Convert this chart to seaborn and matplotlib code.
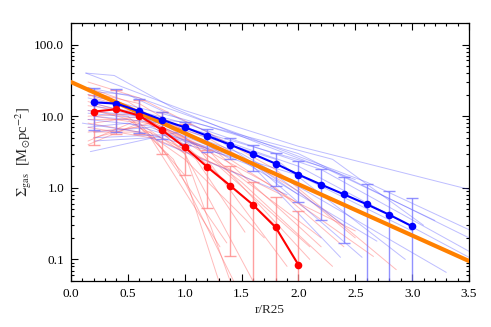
import numpy as np
import pandas as pd
import matplotlib
matplotlib.use("Agg")
import matplotlib.pyplot as plt
import seaborn as sns
from matplotlib.ticker import MultipleLocator, FixedLocator, FixedFormatter, LogLocator, NullFormatter

# ---------------- data ----------------
# mean profiles
blue_r = [0.2, 0.4, 0.6, 0.8, 1.0, 1.2, 1.4, 1.6, 1.8, 2.0, 2.2, 2.4, 2.6, 2.8, 3.0]
blue_mean = [15.6, 15.0, 11.7, 8.9, 7.0, 5.3, 4.0, 2.97, 2.17, 1.53, 1.11, 0.81, 0.59, 0.42, 0.29]
blue_hi = [24.7, 24.0, 17.4, 11.6, 8.4, 6.6, 5.0, 4.0, 3.1, 2.4, 1.85, 1.43, 1.12, 0.90, 0.72]
blue_lo = [6.4, 6.0, 5.8, 4.8, 4.0, 3.2, 2.5, 1.72, 1.07, 0.64, 0.36, 0.17, 0.01, 0.01, 0.01]

red_r = [0.2, 0.4, 0.6, 0.8, 1.0, 1.2, 1.4, 1.6, 1.8, 2.0]
red_mean = [11.6, 12.5, 10.2, 6.4, 3.7, 1.94, 1.07, 0.58, 0.28, 0.084]
red_hi = [20.0, 23.0, 17.0, 11.5, 7.7, 3.4, 2.0, 1.2, 0.74, 0.47]
red_lo = [4.0, 5.7, 5.6, 3.0, 1.5, 0.52, 0.11, 0.01, 0.01, 0.01]

# reference exponential (straight in log space)
orange_r = [0.0, 3.5]
orange_sigma = [30.0, 0.095]

# individual galaxy profiles
blue_prof_r = [
    [0.13, 1.0, 2.0, 3.5],
    [0.13, 0.38, 0.9, 1.6, 2.5],
    [0.15, 0.6, 1.5, 2.6, 3.5],
    [0.15, 1.0, 2.0, 3.5],
    [0.15, 1.0, 2.2, 3.5],
    [0.2, 0.8, 2.0, 3.5],
    [0.15, 0.6, 1.5, 3.3],
    [0.2, 0.8, 1.8, 2.94],
    [0.15, 0.5, 1.4, 2.69],
    [0.17, 0.97, 1.8, 2.4],
    [0.2, 0.7, 1.6, 2.37],
    [0.15, 0.8, 1.6, 2.56],
    [0.2, 0.8, 2.0, 3.0],
    [0.2, 1.0, 2.2, 3.2],
    [0.2, 0.5, 1.2, 2.0],
    [0.15, 1.1, 2.3, 3.1],
    [0.2, 0.7, 1.9],
    [0.1, 0.6, 1.5, 2.8],
]
blue_prof_s = [
    [40, 12, 3.8, 0.95],
    [40, 37, 13, 4.5, 1.3],
    [25, 18, 5.5, 1.2, 0.26],
    [20, 9, 3, 0.2],
    [18, 8, 1.8, 0.13],
    [15, 9, 2, 0.107],
    [12, 10, 3, 0.066],
    [10, 8, 2.5, 0.1],
    [7, 8, 3, 0.18],
    [3.2, 6.1, 1.5, 0.3],
    [6, 7, 2, 0.107],
    [9, 7, 2.2, 0.107],
    [5, 5.5, 1.5, 0.25],
    [14, 7, 2, 0.35],
    [22, 20, 6, 0.8],
    [11, 8, 2.5, 0.3],
    [4.5, 5, 0.8],
    [8, 6, 2.5, 0.3],
]
red_prof_r = [
    [0.15, 0.6, 1.2, 1.8, 2.86],
    [0.15, 0.6, 1.2, 2.0, 2.66],
    [0.2, 0.6, 1.0, 1.4],
    [0.15, 0.5, 0.9, 1.43],
    [0.15, 0.6, 1.0, 1.6],
    [0.15, 0.6, 1.1, 1.9],
    [0.2, 0.7, 1.2, 2.1],
    [0.15, 0.5, 1.0, 1.5, 2.3],
    [0.15, 0.6, 1.2, 2.0, 2.5],
    [0.2, 0.6, 1.3, 2.2],
    [0.15, 0.5, 1.0, 1.7],
    [0.2, 0.7, 1.37],
    [0.15, 0.7, 1.31],
    [0.15, 0.6, 1.1, 1.53],
    [0.15, 0.5, 1.1, 1.8, 2.4],
    [0.2, 0.8, 1.4, 2.2],
    [0.15, 0.6, 1.3, 2.1],
    [0.2, 0.6, 1.0, 1.3],
    [0.15, 0.5, 1.0, 1.8],
    [0.15, 0.6, 1.5, 2.5],
]
red_prof_s = [
    [30, 18, 6, 1.8, 0.072],
    [22, 15, 4, 0.6, 0.11],
    [18, 12, 3, 0.05],
    [12, 10, 2.5, 0.05],
    [4, 8, 3, 0.05],
    [4.5, 9, 4, 0.08],
    [5, 8, 3.5, 0.1],
    [14, 12, 5, 1.2, 0.08],
    [10, 11, 5, 0.9, 0.2],
    [8, 10, 3, 0.15],
    [9, 9, 2.5, 0.2],
    [6, 6, 0.17],
    [7, 5, 0.15],
    [16, 10, 2.5, 0.24],
    [25, 16, 4, 1.0, 0.15],
    [12, 7, 1.8, 0.2],
    [6, 7, 2, 0.15],
    [10, 8, 1.5, 0.05],
    [20, 14, 4, 0.3],
    [8, 6, 1.5, 0.25],
]

xticks = [0.0, 0.5, 1.0, 1.5, 2.0, 2.5, 3.0, 3.5]
yticks = [0.1, 1.0, 10.0, 100.0]
ytick_labels = ["0.1", "1.0", "10.0", "100.0"]

# ---------------- style ----------------
sns.set_style("ticks")
plt.rcParams["font.family"] = ["Liberation Serif", "DejaVu Serif"]
plt.rcParams["mathtext.fontset"] = "stix"
plt.rcParams["axes.linewidth"] = 0.9


def long_df(rs, ss):
    rows = []
    for i, (r, s) in enumerate(zip(rs, ss)):
        for a, b in zip(r, s):
            rows.append({"id": i, "r": a, "sigma": b})
    return pd.DataFrame(rows)


fig = plt.figure(figsize=(4.91, 3.27), dpi=100)
ax = fig.add_axes([71 / 491, 1 - 281 / 327, (469 - 71) / 491, (281 - 23) / 327])
ax.set_yscale("log")

# individual profiles
sns.lineplot(data=long_df(red_prof_r, red_prof_s), x="r", y="sigma", units="id",
             estimator=None, sort=False, color="#ff5555", alpha=0.4, lw=0.7, ax=ax, zorder=1)
sns.lineplot(data=long_df(blue_prof_r, blue_prof_s), x="r", y="sigma", units="id",
             estimator=None, sort=False, color="#4444ff", alpha=0.35, lw=0.7, ax=ax, zorder=1)

# error bars
bm, bh, bl = np.array(blue_mean), np.array(blue_hi), np.array(blue_lo)
rm, rh, rl = np.array(red_mean), np.array(red_hi), np.array(red_lo)
ax.errorbar(red_r, rm, yerr=[rm - rl, rh - rm], fmt="none", ecolor="#ff8888",
            elinewidth=1.0, capsize=4, capthick=1.0, alpha=0.8, zorder=2)
ax.errorbar(blue_r, bm, yerr=[bm - bl, bh - bm], fmt="none", ecolor="#7777ff",
            elinewidth=1.0, capsize=4, capthick=1.0, alpha=0.8, zorder=2)

# orange reference line
sns.lineplot(x=orange_r, y=orange_sigma, color="#ff8000", lw=3.0, ax=ax, zorder=3)

# mean profiles
sns.lineplot(x=blue_r, y=blue_mean, color="#0000ff", lw=1.5, marker="o",
             markersize=5.5, markeredgewidth=0, ax=ax, zorder=4)
sns.lineplot(x=red_r, y=red_mean, color="#ff0000", lw=1.5, marker="o",
             markersize=5.5, markeredgewidth=0, ax=ax, zorder=4)

ax.set_xlim(0, 3.5)
ax.set_ylim(0.05, 200)
ax.xaxis.set_major_locator(FixedLocator(xticks))
ax.xaxis.set_major_formatter(FixedFormatter([f"{v:.1f}" for v in xticks]))
ax.xaxis.set_minor_locator(MultipleLocator(0.1))
ax.yaxis.set_major_locator(FixedLocator(yticks))
ax.yaxis.set_major_formatter(FixedFormatter(ytick_labels))
ax.yaxis.set_minor_locator(LogLocator(base=10, subs=np.arange(2, 10)))
ax.yaxis.set_minor_formatter(NullFormatter())

ax.tick_params(which="both", direction="in", top=True, right=True, colors="black",
               labelsize=9.5, width=0.8)
ax.tick_params(which="major", length=5, pad=5)
ax.tick_params(which="minor", length=2.5)
for s in ax.spines.values():
    s.set_color("black")

ax.set_xlabel("r/R25", fontsize=9.5, labelpad=3)
ax.set_ylabel(r"$\Sigma_{\rm gas}$  [M$_{\odot}$pc$^{-2}$]", fontsize=10.5, labelpad=0)

fig.savefig("out.png", dpi=100)
